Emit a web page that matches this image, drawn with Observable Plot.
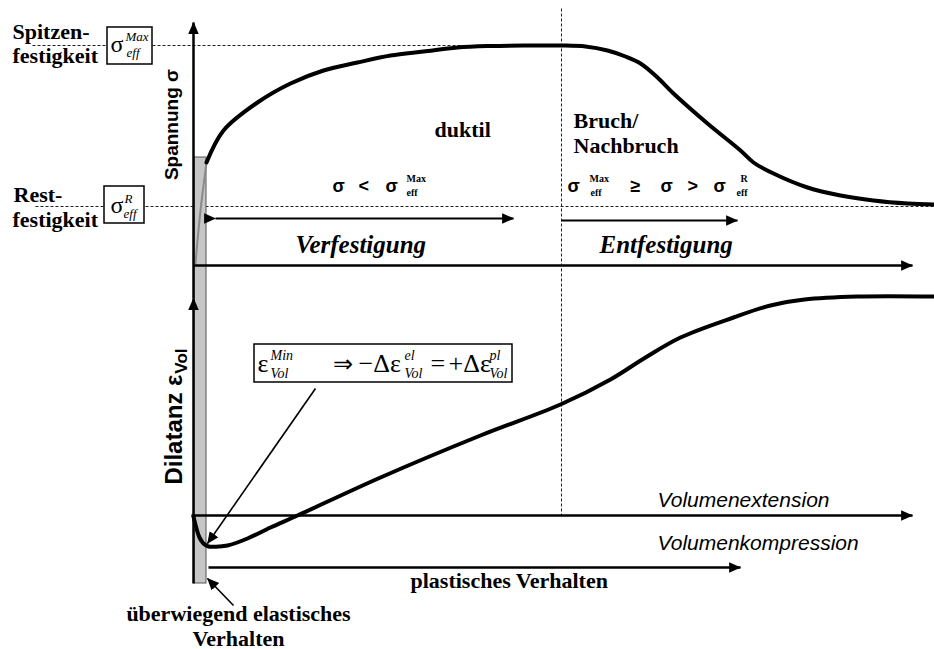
<!DOCTYPE html>
<html>
<head>
<meta charset="utf-8">
<script src="https://cdn.jsdelivr.net/npm/d3@7"></script>
<script src="https://cdn.jsdelivr.net/npm/@observablehq/plot@0.6"></script>
<style>
  html, body { margin: 0; padding: 0; background: #fff; }
  #chart svg { display: block; overflow: visible; }
</style>
</head>
<body>
<div id="chart"></div>
<script>
// ---------- data (schematic units: strain on x, stress / dilatancy on y) ----------
// upper panel: stress-strain curve (stress measured from the stress axis)
const strain = [2.6, 6.0, 12.8, 19.4, 26.0, 32.8, 39.4, 46.0, 52.8, 59.4, 66.0, 73.4, 78.4, 82.8, 86.4, 89.4, 92.8, 96.0, 102.8, 109.4, 112.0, 116.0, 122.8, 129.4, 136.0, 142.8, 148.2];
const stress = [41.2, 54, 65.2, 72.8, 78, 81.2, 84, 85.6, 87.2, 87.8, 88, 88, 87.6, 86, 83.6, 80.8, 75.2, 68.8, 56.8, 46, 41.2, 36.8, 31.2, 28, 26, 24.8, 24.4];
// elastic part inside the grey band
const strainEl = [0.4, 0.8, 1.4, 2.0, 2.6];
const stressEl = [0.8, 10, 22, 32, 41.2];
// lower panel: volumetric strain (dilatancy) curve
const strainV = [0, 0.6, 1.2, 2.0, 3.0, 5.0, 6.8, 10.8, 15.4, 20.8, 37.4, 57.4, 73.4, 83.4, 90.4, 97.4, 108, 115.4, 122.2, 132.8, 148.2];
const dilatancy = [-0.4, -5.2, -8.8, -11.2, -12.4, -12.4, -12, -9.2, -4.8, 0, 15.2, 32, 44.4, 54.4, 63.2, 71.2, 79.2, 84, 86.4, 87.6, 87.6];
// characteristic levels
const stressPeak = 88;        // σ_eff^Max
const stressResidual = 23.6;  // σ_eff^R
const strainPeak = 73.6;      // boundary ductile / fracture
const elasticLimit = 2.6;     // end of mostly elastic range

// ---------- layout ----------
const STRESS_AXIS = 100;   // y-level of stress axis
const XMIN = -38.6, XMAX = 148.2, YMIN = -53.6, YMAX = 206;
const serif = "Liberation Serif, Times New Roman, serif";
const sans = "Liberation Sans, Arial, sans-serif";

const upper = strain.map((x, i) => ({x, y: STRESS_AXIS + stress[i]}));
const upperEl = strainEl.map((x, i) => ({x, y: STRESS_AXIS + stressEl[i]}));
const lower = strainV.map((x, i) => ({x, y: dilatancy[i]}));

const yPeak = STRESS_AXIS + stressPeak;
const yRes = STRESS_AXIS + stressResidual;

// axes and arrows
const bigArrows = [
  {x1: 0, y1: STRESS_AXIS, x2: 143.8, y2: STRESS_AXIS},      // strain axis (upper)
  {x1: -0.4, y1: 0, x2: 143.8, y2: 0},                        // strain axis (lower)
  {x1: 0, y1: -27.2, x2: 0, y2: 86.8},                        // dilatancy axis
  {x1: 0, y1: 86.8, x2: 0, y2: 197.2},                        // stress axis
  {x1: 3.0, y1: -20.8, x2: 109.4, y2: -20.8}                  // plastisches Verhalten
];
const midArrows = [
  {x1: strainPeak, y1: 118, x2: 108.8, y2: 118}               // Entfestigung
];
const dblArrows = [
  {x1: 4.4, y1: 118.8, x2: 64.0, y2: 118.8}                   // Verfestigung
];
const thinArrows = [
  {x1: 24.4, y1: 50.8, x2: 2.8, y2: -11.2},                   // from formula box to minimum
  {x1: 8.0, y1: -36, x2: 2.8, y2: -25.2}                      // überwiegend elastisches Verhalten
];
const dashed = [
  {x1: -32.2, y1: yPeak, x2: 74.4, y2: yPeak},
  {x1: -31.6, y1: yRes, x2: 148.2, y2: yRes},
  {x1: strainPeak, y1: 202.8, x2: strainPeak, y2: 0}
];
const boxes = [
  {x1: -17.2, x2: -8.2, y1: 180.4, y2: 195.2},
  {x1: -17.8, x2: -9.8, y1: 116.8, y2: 131.6},
  {x1: 12.2, x2: 63.8, y1: 53.2, y2: 68.4}
];

// text annotations
const bold22 = {fontFamily: serif, fontWeight: "bold", fontSize: 22};
const texts = [
  // left labels
  {t: "Spitzen-", x: -36.2, y: 190.8, ...bold22},
  {t: "festigkeit", x: -36.2, y: 181.2, ...bold22},
  {t: "Rest-", x: -36.0, y: 125.6, ...bold22},
  {t: "festigkeit", x: -36.2, y: 115.6, ...bold22},
  // boxed symbols
  {t: "σ", x: -16.6, y: 185.6, fontFamily: serif, fontSize: 24},
  {t: "Max", x: -13.6, y: 190, fontFamily: serif, fontStyle: "italic", fontSize: 13},
  {t: "eff", x: -13.4, y: 183.6, fontFamily: serif, fontStyle: "italic", fontSize: 13},
  {t: "σ", x: -16.6, y: 121.2, fontFamily: serif, fontSize: 24},
  {t: "R", x: -13.8, y: 125.2, fontFamily: serif, fontStyle: "italic", fontSize: 13},
  {t: "eff", x: -14.0, y: 119.2, fontFamily: serif, fontStyle: "italic", fontSize: 13},
  // region labels
  {t: "duktil", x: 48.2, y: 151.6, ...bold22},
  {t: "Bruch/", x: 76.0, y: 155.2, ...bold22},
  {t: "Nachbruch", x: 76.0, y: 145.2, ...bold22},
  // inequalities
  {t: "σ", x: 27.8, y: 129.6, fontFamily: sans, fontWeight: "bold", fontSize: 18},
  {t: "<", x: 33.0, y: 129.6, fontFamily: sans, fontWeight: "bold", fontSize: 18},
  {t: "σ", x: 38.4, y: 129.6, fontFamily: sans, fontWeight: "bold", fontSize: 18},
  {t: "Max", x: 42.6, y: 133.6, fontFamily: serif, fontWeight: "bold", fontSize: 10},
  {t: "eff", x: 42.6, y: 127.8, fontFamily: serif, fontWeight: "bold", fontSize: 10},
  {t: "σ", x: 74.8, y: 129.6, fontFamily: sans, fontWeight: "bold", fontSize: 18},
  {t: "Max", x: 79.2, y: 133.6, fontFamily: serif, fontWeight: "bold", fontSize: 10},
  {t: "eff", x: 79.4, y: 127.8, fontFamily: serif, fontWeight: "bold", fontSize: 10},
  {t: "≥", x: 87.4, y: 129.6, fontFamily: sans, fontWeight: "bold", fontSize: 18},
  {t: "σ", x: 93.4, y: 129.6, fontFamily: sans, fontWeight: "bold", fontSize: 18},
  {t: ">", x: 98.8, y: 129.6, fontFamily: sans, fontWeight: "bold", fontSize: 18},
  {t: "σ", x: 104.0, y: 129.6, fontFamily: sans, fontWeight: "bold", fontSize: 18},
  {t: "R", x: 109.4, y: 133.6, fontFamily: serif, fontWeight: "bold", fontSize: 10},
  {t: "eff", x: 108.6, y: 127.8, fontFamily: serif, fontWeight: "bold", fontSize: 10},
  // phase names
  {t: "Verfestigung", x: 20.4, y: 105.2, fontFamily: serif, fontWeight: "bold", fontStyle: "italic", fontSize: 25},
  {t: "Entfestigung", x: 81.2, y: 105.2, fontFamily: serif, fontWeight: "bold", fontStyle: "italic", fontSize: 25},
  {t: "Volumenextension", x: 92.8, y: 3.6, fontFamily: sans, fontStyle: "italic", fontSize: 21},
  {t: "Volumenkompression", x: 92.8, y: -13.6, fontFamily: sans, fontStyle: "italic", fontSize: 21},
  {t: "plastisches Verhalten", x: 43.4, y: -28.8, ...bold22},
  {t: "überwiegend elastisches", x: 9.0, y: -42, textAnchor: "middle", ...bold22},
  {t: "Verhalten", x: 9.0, y: -52, textAnchor: "middle", ...bold22},
  // formula
  {t: "ε", x: 12.8, y: 57.6, fontFamily: serif, fontSize: 26},
  {t: "Min", x: 15.4, y: 62.4, fontFamily: serif, fontStyle: "italic", fontSize: 14},
  {t: "Vol", x: 15.4, y: 55.2, fontFamily: serif, fontStyle: "italic", fontSize: 14},
  {t: "⇒", x: 27.8, y: 57.6, fontFamily: serif, fontSize: 24},
  {t: "−Δε", x: 33.0, y: 57.6, fontFamily: serif, fontSize: 26},
  {t: "el", x: 42.2, y: 62.4, fontFamily: serif, fontStyle: "italic", fontSize: 14},
  {t: "Vol", x: 42.2, y: 55.2, fontFamily: serif, fontStyle: "italic", fontSize: 14},
  {t: "=", x: 47.4, y: 57.6, fontFamily: serif, fontSize: 26},
  {t: "+Δε", x: 51.0, y: 57.6, fontFamily: serif, fontSize: 26},
  {t: "pl", x: 59.2, y: 62.4, fontFamily: serif, fontStyle: "italic", fontSize: 14},
  {t: "Vol", x: 59.2, y: 55.2, fontFamily: serif, fontStyle: "italic", fontSize: 14}
];

function textMark(d) {
  const {t, x, y, ...o} = d;
  return Plot.text([{t, x, y}], {x: "x", y: "y", text: "t", textAnchor: "start", lineAnchor: "bottom", fill: "black", ...o});
}
const L = {x1: "x1", y1: "y1", x2: "x2", y2: "y2", stroke: "black"};

const chart = Plot.plot({
  width: 934,
  height: 649,
  margin: 0,
  x: {domain: [XMIN, XMAX], axis: null},
  y: {domain: [YMIN, YMAX], axis: null},
  style: {background: "white", overflow: "visible"},
  marks: [
    Plot.link(dashed, {x1: "x1", y1: "y1", x2: "x2", y2: "y2", stroke: "#222", strokeWidth: 1, strokeDasharray: "3,2"}),
    Plot.rect([{x1: 0.2, x2: elasticLimit, y1: -27.2, y2: 143.2}], {x1: "x1", x2: "x2", y1: "y1", y2: "y2", fill: "#c6c6c6", stroke: "#555", strokeWidth: 1}),
    Plot.line(upperEl, {x: "x", y: "y", stroke: "#8a8a8a", strokeWidth: 2, curve: "catmull-rom"}),
    Plot.link(bigArrows, {...L, strokeWidth: 2.5, markerEnd: "arrow", ariaLabel: "arrow-big"}),
    Plot.link(midArrows, {...L, strokeWidth: 2, markerEnd: "arrow", ariaLabel: "arrow-mid"}),
    Plot.link(dblArrows, {...L, strokeWidth: 2, markerStart: "arrow", markerEnd: "arrow", ariaLabel: "arrow-dbl"}),
    Plot.link(thinArrows, {...L, strokeWidth: 1.6, markerEnd: "arrow", ariaLabel: "arrow-thin"}),
    Plot.line(upper, {x: "x", y: "y", stroke: "black", strokeWidth: 4, curve: "catmull-rom"}),
    Plot.line(lower, {x: "x", y: "y", stroke: "black", strokeWidth: 4, curve: "catmull-rom"}),
    Plot.rect(boxes, {x1: "x1", x2: "x2", y1: "y1", y2: "y2", fill: "white", stroke: "black", strokeWidth: 1.5}),
    Plot.text(["Spannung σ"], {x: [-3.2], y: [156.4], text: d => d, rotate: -90, textAnchor: "middle", lineAnchor: "bottom", fontFamily: sans, fontWeight: "bold", fontSize: 19, fill: "black"}),
    Plot.text(["Dilatanz ε"], {x: [-2.4], y: [56.4], text: d => d, rotate: -90, textAnchor: "end", lineAnchor: "bottom", fontFamily: sans, fontWeight: "bold", fontSize: 24, fill: "black"}),
    Plot.text(["Vol"], {x: [-1.4], y: [66.8], text: d => d, rotate: -90, textAnchor: "end", lineAnchor: "bottom", fontFamily: sans, fontWeight: "bold", fontSize: 17, fill: "black"}),
    ...texts.map(textMark)
  ]
});

// turn Plot's arrow markers into filled triangular heads
const svg = d3.select(chart);
svg.selectAll("marker").each(function () {
  const m = d3.select(this);
  m.attr("viewBox", "0 -5 10 10")
    .attr("refX", 9.5).attr("refY", 0)
    .attr("markerUnits", "userSpaceOnUse")
    .attr("markerWidth", 12).attr("markerHeight", 12)
    .attr("fill", "black").attr("stroke", "none");
  m.selectAll("*").remove();
  m.append("path").attr("d", "M0,-4.4L10,0L0,4.4Z").attr("fill", "black").attr("stroke", "none");
});
svg.selectAll('g[aria-label="arrow-thin"] marker')
  .attr("markerWidth", 9).attr("markerHeight", 9);

document.getElementById("chart").appendChild(chart);
</script>
</body>
</html>
